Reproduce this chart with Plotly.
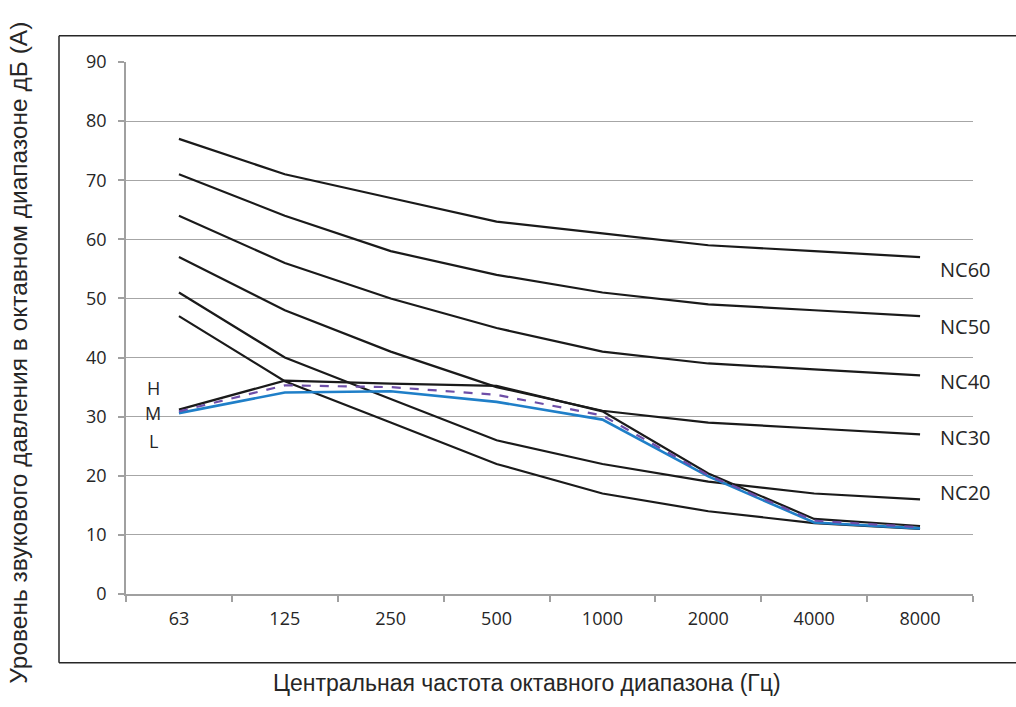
import plotly.graph_objects as go

bands = ["63", "125", "250", "500", "1000", "2000", "4000", "8000"]
nc60 = [77, 71, 67, 63, 61, 59, 58, 57]
nc50 = [71, 64, 58, 54, 51, 49, 48, 47]
nc40 = [64, 56, 50, 45, 41, 39, 38, 37]
nc30 = [57, 48, 41, 35, 31, 29, 28, 27]
nc20 = [51, 40, 33, 26, 22, 19, 17, 16]
nc15 = [47, 36, 29, 22, 17, 14, 12, 11]
h_vals = [31.2, 36.1, 35.6, 35.2, 30.9, 20.4, 12.7, 11.5]
m_vals = [30.9, 35.3, 35.0, 33.7, 30.2, 20.1, 12.4, 11.3]
l_vals = [30.6, 34.1, 34.3, 32.5, 29.5, 19.9, 12.1, 11.1]

nc_labels = ["NC60", "NC50", "NC40", "NC30", "NC20"]
nc_label_y = [54.9, 45.3, 35.9, 26.5, 17.2]
hml_labels = ["H", "M", "L"]
hml_label_y = [34.8, 30.6, 25.9]

TICK_FONT = dict(family="Open Sans", size=18, color="#262626")
NC_FONT = dict(family="Open Sans", size=20, color="#262626")
HML_FONT = dict(family="Open Sans", size=18, color="#262626")
XTITLE_FONT = dict(family="Liberation Sans", size=23, color="#262626")
YTITLE_FONT = dict(family="Liberation Sans", size=24.5, color="#262626")

fig = go.Figure()
for name, vals in [("NC60", nc60), ("NC50", nc50), ("NC40", nc40),
                   ("NC30", nc30), ("NC20", nc20), ("NC15", nc15)]:
    fig.add_trace(go.Scatter(x=bands, y=vals, mode="lines", name=name,
                             line=dict(color="#1a1a1a", width=2.2)))
fig.add_trace(go.Scatter(x=bands, y=h_vals, mode="lines", name="H",
                         line=dict(color="#1a1a1a", width=2.2)))
fig.add_trace(go.Scatter(x=bands, y=l_vals, mode="lines", name="L",
                         line=dict(color="#1f7fc8", width=2.6)))
fig.add_trace(go.Scatter(x=bands, y=m_vals, mode="lines", name="M",
                         line=dict(color="#6e4ea8", width=2.2, dash="dash")))

for lab, yv in zip(nc_labels, nc_label_y):
    fig.add_annotation(x=0.9587, xref="paper", y=yv, yref="y", text=lab,
                       showarrow=False, xanchor="left", yanchor="middle",
                       font=NC_FONT)
for lab, yv in zip(hml_labels, hml_label_y):
    fig.add_annotation(x=0.0322, xref="paper", y=yv, yref="y", text=lab,
                       showarrow=False, xanchor="center", yanchor="middle",
                       font=HML_FONT)

# axis titles
fig.add_annotation(x=(527 - 126) / 847, xref="paper", y=(594.3 - 683) / 532,
                   yref="paper", text="Центральная частота октавного диапазона (Гц)",
                   showarrow=False, xanchor="center", yanchor="middle",
                   font=XTITLE_FONT)
fig.add_annotation(x=(19 - 126) / 847, xref="paper", y=(594.3 - 353) / 532,
                   yref="paper", text="Уровень звукового давления в октавном диапазоне дБ (А)",
                   showarrow=False, xanchor="center", yanchor="middle", textangle=-90,
                   font=YTITLE_FONT)

# outer frame: left, top and bottom edges (right edge lies off the page)
fx0 = (59 - 126) / 847
fx1 = (1016 - 126) / 847
fy0 = (594.3 - 663) / 532
fy1 = (594.3 - 36) / 532
frame_line = dict(color="#262626", width=1.5)
fig.add_shape(type="line", xref="paper", yref="paper", x0=fx0, x1=fx0, y0=fy0, y1=fy1,
              line=frame_line, layer="below")
fig.add_shape(type="line", xref="paper", yref="paper", x0=fx0, x1=fx1, y0=fy1, y1=fy1,
              line=frame_line, layer="below")
fig.add_shape(type="line", xref="paper", yref="paper", x0=fx0, x1=fx1, y0=fy0, y1=fy0,
              line=frame_line, layer="below")

fig.update_layout(
    width=1016, height=707,
    margin=dict(l=126, r=43, t=62, b=113),
    paper_bgcolor="white", plot_bgcolor="white",
    showlegend=False,
    xaxis=dict(type="category", range=[-0.5, 7.5], showgrid=False,
               showline=True, linecolor="#a0a0a0", linewidth=1.5,
               ticks="outside", tickson="boundaries", ticklen=6,
               tickcolor="#a0a0a0", tickwidth=1.5,
               tickfont=TICK_FONT, ticklabelstandoff=8, zeroline=False),
    yaxis=dict(range=[0, 90], dtick=10, showgrid=True, gridcolor="#a6a6a6",
               gridwidth=1.3, showline=True, linecolor="#a0a0a0", linewidth=1.5,
               ticks="outside", ticklen=6, tickcolor="#a0a0a0", tickwidth=1.5,
               tickfont=TICK_FONT, ticklabelstandoff=8, zeroline=False),
)

fig.write_html(
    "out.html", config={"displayModeBar": False},
    post_script=("document.body.style.margin='0';"
                 "document.body.style.overflow='hidden';"
                 "document.documentElement.style.overflow='hidden';"))
